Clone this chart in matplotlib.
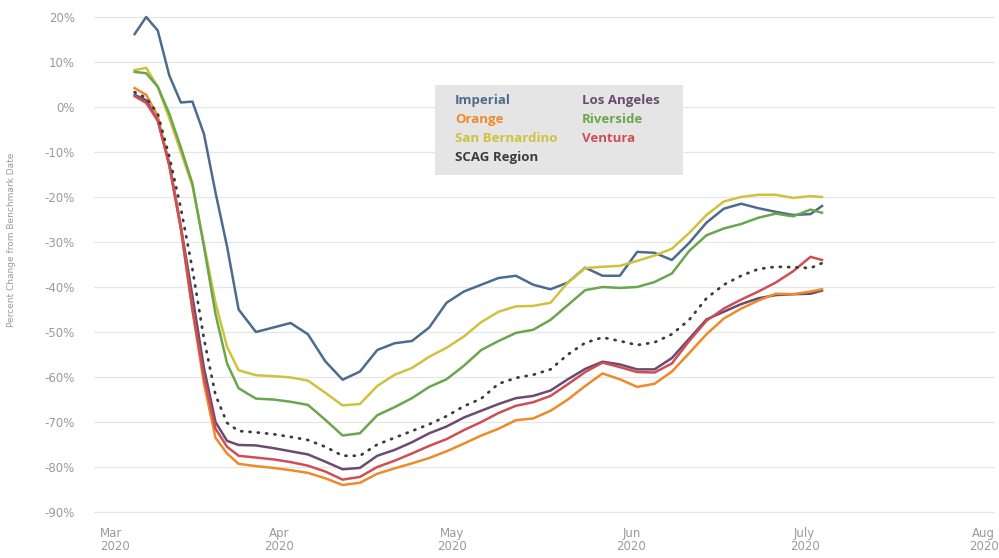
import matplotlib
matplotlib.use("Agg")
import matplotlib.pyplot as plt
from matplotlib.patches import Rectangle
import datetime as dt

# days after Mar 1 2020
days = [6, 8, 10, 12, 14, 16, 18, 20, 22, 24,
        27, 30, 33, 36, 39, 42, 45, 48, 51, 54,
        57, 60, 63, 66, 69, 72, 75, 78, 81, 84,
        87, 90, 93, 96, 99, 102, 105, 108, 111, 114,
        117, 120, 123, 125]

imperial = [16.2, 20, 17, 7, 1, 1.2, -6, -19, -31, -45,
            -50, -49, -48, -50.5, -56.5, -60.6, -58.8, -54, -52.5, -52,
            -49, -43.5, -41, -39.5, -38, -37.5, -39.5, -40.5, -39, -35.7,
            -37.5, -37.5, -32.2, -32.4, -34, -30.2, -25.7, -22.6, -21.5, -22.5,
            -23.3, -24, -23.8, -22]

san_bernardino = [8.2, 8.7, 4.5, -2.5, -10, -17.5, -30.5, -43.5, -53.3, -58.5,
                  -59.6, -59.8, -60.1, -60.8, -63.5, -66.3, -66, -62, -59.5, -58,
                  -55.5, -53.5, -51, -47.8, -45.5, -44.3, -44.2, -43.5, -39, -35.8,
                  -35.5, -35.3, -34.2, -33, -31.5, -28, -24, -21, -20, -19.5,
                  -19.5, -20.2, -19.8, -20]

riverside = [7.8, 7.5, 4.5, -1.5, -9, -17, -31, -46, -57, -62.5,
             -64.8, -65, -65.5, -66.2, -69.5, -73, -72.5, -68.5, -66.7, -64.7,
             -62.2, -60.5, -57.5, -54, -52, -50.2, -49.5, -47.3, -44, -40.7,
             -40, -40.2, -40, -38.9, -37, -32, -28.5, -27, -26, -24.6,
             -23.7, -24.3, -22.8, -23.5]

scag = [3.3, 2, -1.5, -11, -22.5, -36, -51.5, -64, -70.2, -72,
        -72.3, -72.7, -73.3, -74, -75.5, -77.5, -77.5, -75, -73.5, -72,
        -70.5, -68.7, -66.5, -64.8, -61.5, -60.2, -59.5, -58.3, -55, -52.4,
        -51.2, -52, -52.9, -52.3, -50.5, -47.3, -42.5, -39.5, -37.5, -36,
        -35.5, -35.6, -35.8, -34.7]

los_angeles = [2.7, 1.5, -3, -12.5, -26.5, -42, -58, -70, -74.2, -75.1,
               -75.2, -75.8, -76.5, -77.2, -78.8, -80.5, -80.2, -77.5, -76.2, -74.5,
               -72.5, -71, -69, -67.5, -66, -64.7, -64.2, -63, -60.5, -58.2,
               -56.6, -57.2, -58.3, -58.3, -55.8, -51.5, -47.2, -45.5, -43.8, -42.5,
               -41.8, -41.6, -41.5, -40.8]

orange = [4.2, 2.7, -2, -13, -27, -45, -61.5, -73.5, -77, -79.3,
          -79.8, -80.2, -80.7, -81.3, -82.5, -84, -83.5, -81.5, -80.3, -79.2,
          -78, -76.5, -74.8, -73, -71.5, -69.6, -69.2, -67.5, -65, -62,
          -59.2, -60.5, -62.2, -61.5, -58.8, -54.7, -50.5, -47, -44.8, -43,
          -41.5, -41.6, -41, -40.5]

ventura = [2.4, 0.9, -3, -13, -27, -45, -60, -71.5, -75.5, -77.5,
           -77.9, -78.3, -78.9, -79.7, -81, -82.8, -82.2, -80, -78.6, -77,
           -75.3, -73.8, -71.8, -70, -68, -66.4, -65.6, -64.2, -61.6, -58.9,
           -56.8, -57.8, -58.9, -59, -57, -52, -47.5, -44.8, -42.8, -41,
           -39, -36.5, -33.3, -34]

start = dt.date(2020, 3, 1)
dates = [start + dt.timedelta(days=d) for d in days]

yticks = list(range(-90, 30, 10))
month_ticks = [dt.date(2020, m, 1) for m in range(3, 9)]
month_labels = ["Mar\n2020", "Apr\n2020", "May\n2020", "Jun\n2020", "July\n2020", "Aug\n2020"]

c_imp = "#4d6b8c"
c_org = "#ee8a2a"
c_sb = "#cfc23c"
c_scag = "#3c3c3c"
c_la = "#6b4b6f"
c_riv = "#6aa64e"
c_ven = "#cf4e55"

fig = plt.figure(figsize=(9.99, 5.58), dpi=100)
ax = fig.add_axes([0.0943, 0.0582, 0.902, 0.9275])

ax.plot(dates, imperial, color=c_imp, lw=1.8)
ax.plot(dates, san_bernardino, color=c_sb, lw=1.8)
ax.plot(dates, riverside, color=c_riv, lw=1.8)
ax.plot(dates, los_angeles, color=c_la, lw=1.8)
ax.plot(dates, orange, color=c_org, lw=1.8)
ax.plot(dates, ventura, color=c_ven, lw=1.8)
ax.plot(dates, scag, color=c_scag, lw=2.0, linestyle=(0, (0.4, 2.6)),
        dash_capstyle="round")

ax.set_ylim(-93, 22)
ax.set_xlim(start - dt.timedelta(days=1), dt.date(2020, 8, 1) + dt.timedelta(days=2.3))

ax.set_yticks(yticks)
ax.set_yticklabels([f"{v}%" for v in yticks])
ax.set_xticks(month_ticks)
ax.set_xticklabels(month_labels, linespacing=1.05)
ax.get_xticklabels()[0].set_ha("left")

for s in ax.spines.values():
    s.set_visible(False)
ax.tick_params(axis="both", length=0, labelsize=8.5, colors="#9a9a9a")
ax.tick_params(axis="y", pad=14)
ax.tick_params(axis="x", pad=1)
ax.grid(axis="y", color="#e6e6e6", lw=0.9)
ax.set_axisbelow(True)

fig.text(0.012, 0.57, "Percent Change from Benchmark Date", rotation=90,
         fontsize=6.5, color="#9a9a9a", ha="center", va="center")

# legend box
fig.patches.append(Rectangle((0.4354, 0.6864), 0.2482, 0.1613,
                             transform=fig.transFigure, facecolor="#e5e5e5",
                             edgecolor="none", zorder=5))
leg = [("Imperial", c_imp, 0.4555, 0.819),
       ("Orange", c_org, 0.4555, 0.785),
       ("San Bernardino", c_sb, 0.4555, 0.751),
       ("SCAG Region", c_scag, 0.4555, 0.717),
       ("Los Angeles", c_la, 0.5826, 0.819),
       ("Riverside", c_riv, 0.5826, 0.785),
       ("Ventura", c_ven, 0.5826, 0.751)]
for name, col, x, y in leg:
    fig.text(x, y, name, color=col, fontsize=9.5, fontweight="bold",
             family="Open Sans", ha="left", va="center", zorder=6)

fig.savefig("out.png", dpi=100)
